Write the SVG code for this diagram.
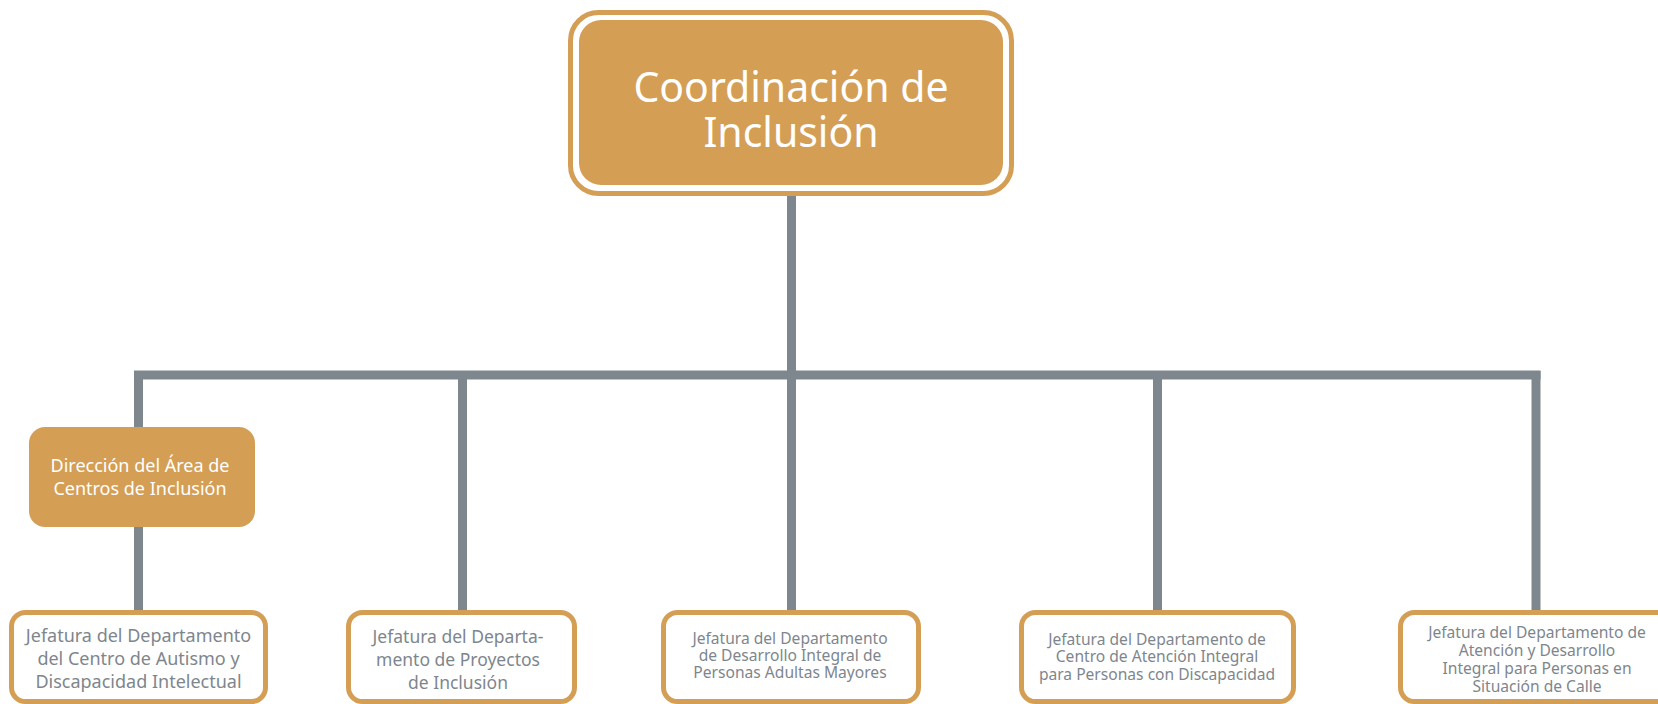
<svg xmlns="http://www.w3.org/2000/svg" width="1658" height="704" viewBox="0 0 1658 704">
<style>
.ln{stroke:#7f878e;stroke-width:9;fill:none;stroke-linecap:butt}
.box{fill:#ffffff;stroke:#d49e55;stroke-width:5}
.fill{fill:#d49e55}
.wt{fill:#ffffff;font-family:"Noto Sans","Open Sans",sans-serif;text-anchor:middle}
.gt{fill:#7e868d;font-family:"Noto Sans","Open Sans",sans-serif;text-anchor:middle}
</style>
<rect width="1658" height="704" fill="#ffffff"/>
<g id="connectors">
<line class="ln" x1="791.5" y1="190" x2="791.5" y2="612"/>
<line class="ln" x1="134" y1="375" x2="1540.5" y2="375"/>
<line class="ln" x1="138.5" y1="371" x2="138.5" y2="612"/>
<line class="ln" x1="462.5" y1="371" x2="462.5" y2="612"/>
<line class="ln" x1="1157.5" y1="371" x2="1157.5" y2="612"/>
<line class="ln" x1="1536" y1="371" x2="1536" y2="612"/>
</g>
<g id="coordinacion">
<rect class="box" x="570.5" y="12.5" width="441" height="181" rx="28"/>
<rect class="fill" x="579" y="20" width="424" height="165" rx="22"/>
<text class="wt" font-size="41" x="791" y="102">Coordinación de</text>
<text class="wt" font-size="41" x="791" y="147">Inclusión</text>
</g>
<g id="direccion">
<rect class="fill" x="29" y="427" width="226" height="100" rx="16"/>
<text class="wt" font-size="18" x="140" y="472">Dirección del Área de</text>
<text class="wt" font-size="18" x="140" y="495">Centros de Inclusión</text>
</g>
<g id="jefatura-autismo">
<rect class="box" x="11.5" y="612.5" width="254" height="89" rx="14"/>
<text class="gt" font-size="18" x="138.5" y="642">Jefatura del Departamento</text>
<text class="gt" font-size="18" x="138.5" y="665">del Centro de Autismo y</text>
<text class="gt" font-size="18" x="138.5" y="688">Discapacidad Intelectual</text>
</g>
<g id="jefatura-proyectos">
<rect class="box" x="348.5" y="612.5" width="226" height="89" rx="14"/>
<text class="gt" font-size="17.5" x="458" y="643">Jefatura del Departa-</text>
<text class="gt" font-size="17.5" x="458" y="666">mento de Proyectos</text>
<text class="gt" font-size="17.5" x="458" y="689">de Inclusión</text>
</g>
<g id="jefatura-adultos">
<rect class="box" x="663.5" y="612.5" width="255" height="89" rx="14"/>
<text class="gt" font-size="15.6" x="790" y="644">Jefatura del Departamento</text>
<text class="gt" font-size="15.6" x="790" y="661">de Desarrollo Integral de</text>
<text class="gt" font-size="15.6" x="790" y="678">Personas Adultas Mayores</text>
</g>
<g id="jefatura-discapacidad">
<rect class="box" x="1021.5" y="612.5" width="272" height="89" rx="14"/>
<text class="gt" font-size="15.6" x="1157" y="645">Jefatura del Departamento de</text>
<text class="gt" font-size="15.6" x="1157" y="662">Centro de Atención Integral</text>
<text class="gt" font-size="15.6" x="1157" y="680">para Personas con Discapacidad</text>
</g>
<g id="jefatura-calle">
<rect class="box" x="1400.5" y="612.5" width="271" height="89" rx="14"/>
<text class="gt" font-size="15.6" x="1537" y="638">Jefatura del Departamento de</text>
<text class="gt" font-size="15.6" x="1537" y="656">Atención y Desarrollo</text>
<text class="gt" font-size="15.6" x="1537" y="674">Integral para Personas en</text>
<text class="gt" font-size="15.6" x="1537" y="692">Situación de Calle</text>
</g>
</svg>
